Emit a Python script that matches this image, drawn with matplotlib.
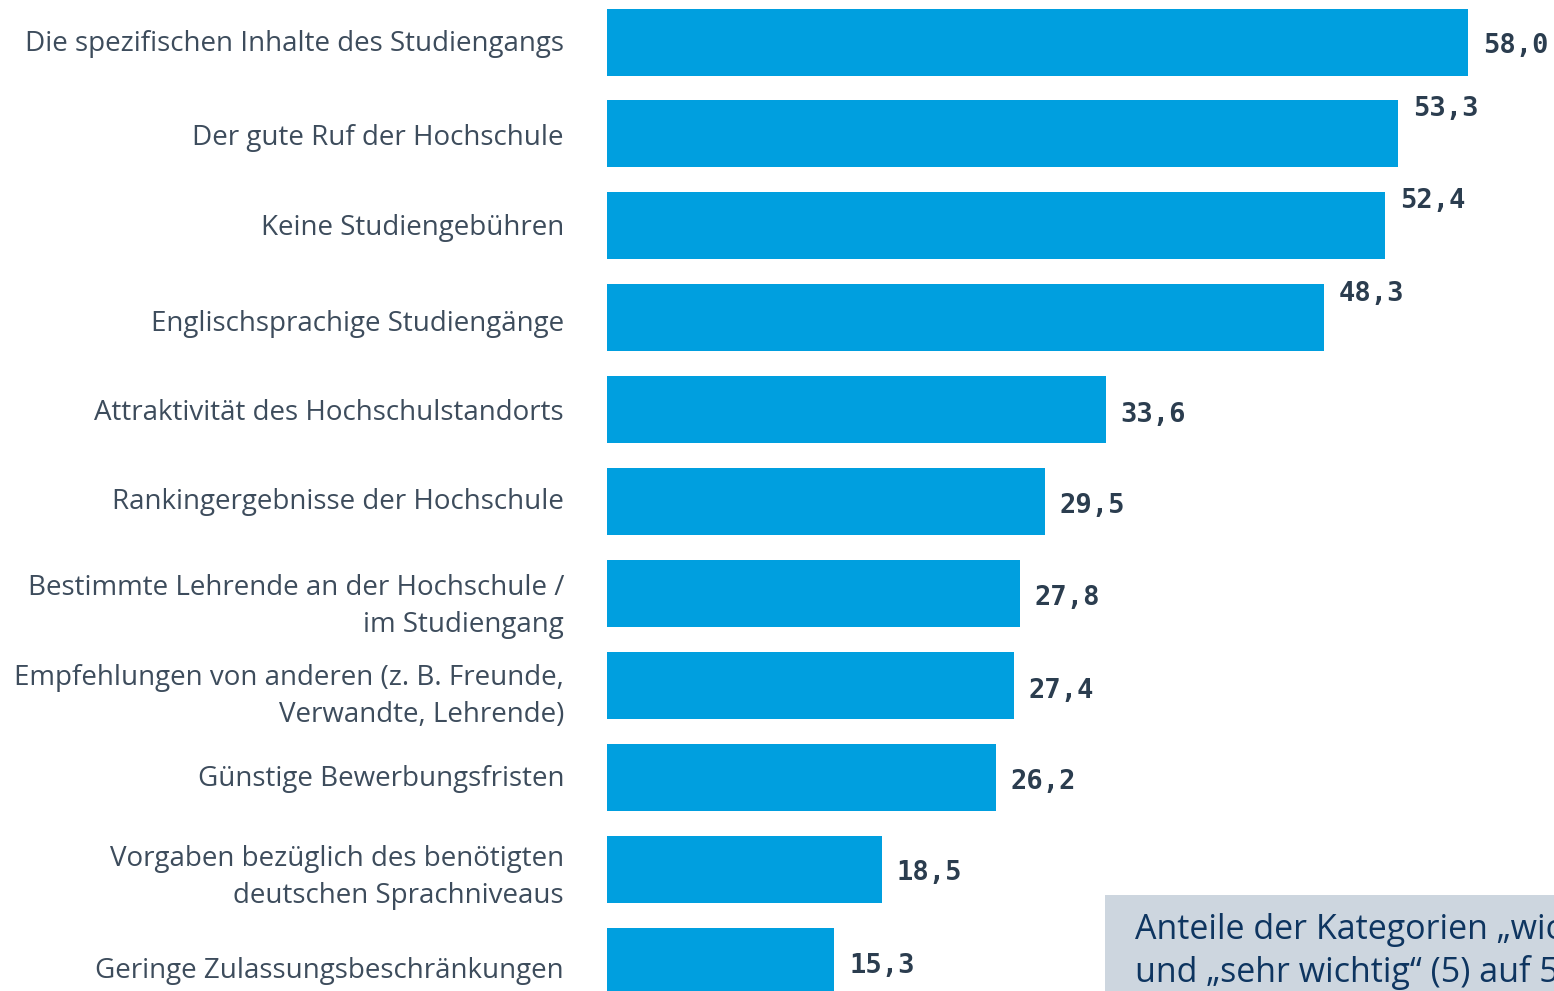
import matplotlib.pyplot as plt
import numpy as np

categories = [
    "Die spezifischen Inhalte des Studiengangs",
    "Der gute Ruf der Hochschule",
    "Keine Studiengebühren",
    "Englischsprachige Studiengänge",
    "Attraktivität des Hochschulstandorts",
    "Rankingergebnisse der Hochschule",
    "Bestimmte Lehrende an der Hochschule /\nim Studiengang",
    "Empfehlungen von anderen (z. B. Freunde,\nVerwandte, Lehrende)",
    "Günstige Bewerbungsfristen",
    "Vorgaben bezüglich des benötigten\ndeutschen Sprachniveaus",
    "Geringe Zulassungsbeschränkungen",
]
values = [58.0, 53.3, 52.4, 48.3, 33.6, 29.5, 27.8, 27.4, 26.2, 18.5, 15.3]
note = "Anteile der Kategorien „wichtig“ (4)\nund „sehr wichtig“ (5) auf 5-stufiger Skala"

# vertical nudge of value labels (in bar-pitch units), as in the original layout
label_dy = [0.04, -0.27, -0.27, -0.26, 0.06, 0.05, 0.05, 0.06, 0.05, 0.04, 0.05]
# vertical nudge of category labels
cat_dy = [0.02, 0.04, 0.02, 0.07, 0.04, 0.01, 0.14, 0.12, 0.02, 0.09, 0.11]

W, H = 1554, 991
fig = plt.figure(figsize=(W / 100, H / 100), dpi=100)
ax = fig.add_axes([607 / W, 0, 1 - 607 / W, 1])

pitch = 91.9
y = np.arange(len(values))
ax.barh(y, values, height=67 / pitch, color="#009FDF", zorder=2)

px_per_unit = (1468 - 607) / 58.0
ax.set_xlim(0, (W - 607) / px_per_unit)
ax.set_ylim((H - 42) / pitch, -42 / pitch)
ax.axis("off")

for i, v in enumerate(values):
    ax.text(v + 15 / px_per_unit, i + label_dy[i], f"{v:.1f}".replace(".", ","),
            ha="left", va="center", fontsize=19.5, fontweight="bold",
            family="DejaVu Sans Mono", color="#2b3d4f")
    ax.text(-43 / px_per_unit, i + cat_dy[i], categories[i], ha="right", va="center",
            fontsize=20.0, family="Open Sans", color="#3d4c5c", linespacing=1.44,
            clip_on=False)

fig.patches.append(plt.Rectangle((1105 / W, 0), 1, (H - 895) / H, transform=fig.transFigure,
                                 facecolor="#CDD6DF", edgecolor="none", zorder=5))
fig.text(1135 / W, (H - 913) / H, note, ha="left", va="top", fontsize=24.5,
         family="Open Sans", color="#0e3560", linespacing=1.3, zorder=6)

fig.savefig("out.png", dpi=100)
